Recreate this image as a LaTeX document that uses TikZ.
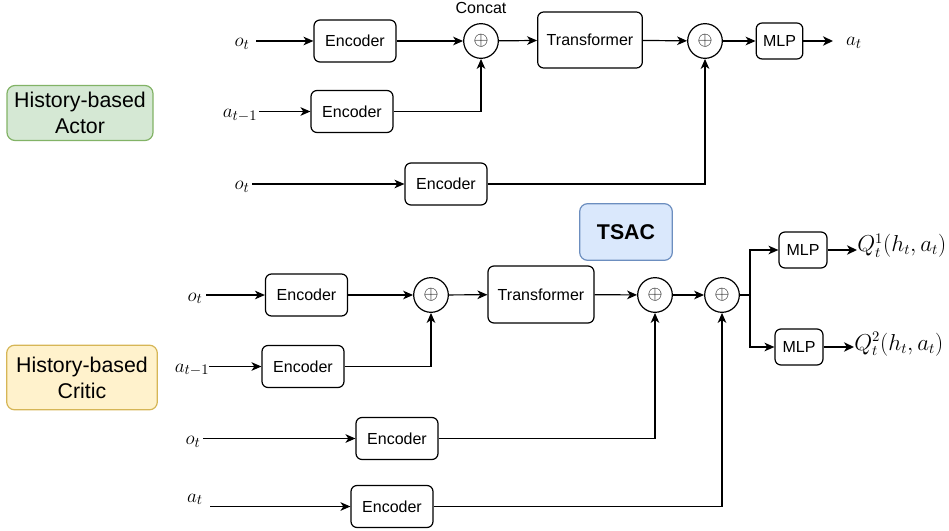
\documentclass[tikz,border=0pt]{standalone}
\usepackage[no-math]{fontspec}
\setmainfont{Liberation Sans}
\usetikzlibrary{arrows.meta}

\definecolor{actorfill}{HTML}{D5E8D4}
\definecolor{actorline}{HTML}{82B366}
\definecolor{criticfill}{HTML}{FFF2CC}
\definecolor{criticline}{HTML}{D6B656}
\definecolor{tsacfill}{HTML}{DAE8FC}
\definecolor{tsacline}{HTML}{6C8EBF}

\tikzset{
  block/.style={draw=black, line width=0.9pt, rounded corners=4.5pt, fill=white,
    inner sep=0pt, align=center, font=\fontsize{12}{14}\selectfont},
  encbox/.style={block, minimum width=61.5pt, minimum height=31.5pt},
  trfbox/.style={block, minimum width=78.5pt, minimum height=42pt},
  mlpbox/.style={block, minimum width=35pt, minimum height=27pt},
  joinnode/.style={circle, draw=black, line width=0.9pt, fill=white,
    minimum size=26pt, inner sep=0pt, font=\fontsize{15}{16}\selectfont},
  tag/.style={rounded corners=6pt, line width=0.9pt, align=center,
    font=\fontsize{16}{19.5}\selectfont, inner sep=0pt},
  mathlabel/.style={inner sep=0pt, font=\fontsize{15.5}{18}\selectfont},
  link/.style={line width=0.9pt, -{Stealth[length=7.5pt, width=6.5pt, inset=2.2pt]}},
  plain/.style={line width=0.9pt},
  boldlink/.style={line width=1.5pt, -{Stealth[length=7.5pt, width=7pt, inset=2.2pt]}},
}

\begin{document}
\begin{tikzpicture}[x=0.75pt, y=-0.75pt]
\useasboundingbox (0,0) rectangle (949,531);

% ---------- legend tags ----------
\node[tag, draw=actorline, fill=actorfill, minimum width=109.5pt, minimum height=41.25pt]
  (actor) at (80,113) {History-based\\Actor};
\node[tag, draw=criticline, fill=criticfill, minimum width=113pt, minimum height=48.5pt]
  (critic) at (82,377.5) {History-based\\Critic};
\node[tag, draw=tsacline, fill=tsacfill, minimum width=69.5pt, minimum height=42.5pt,
  font=\fontsize{16}{19}\selectfont\bfseries] (tsac) at (626,232) {TSAC};

% ---------- actor ----------
\node[encbox] (ae1) at (355,41) {Encoder};
\node[encbox] (ae2) at (352,111.5) {Encoder};
\node[encbox] (ae3) at (446,184) {Encoder};
\node[joinnode] (ac1) at (481,41) {$\oplus$};
\node[font=\fontsize{12}{14}\selectfont, inner sep=0pt] (concat) at (481,8) {Concat};
\node[trfbox] (at1) at (590,40) {Transformer};
\node[joinnode] (ac2) at (705,41) {$\oplus$};
\node[mlpbox] (am1) at (779.5,41) {MLP};

\node[mathlabel, anchor=base] (lao1) at (242,47) {$o_t$};
\node[mathlabel, anchor=base] (laa1) at (240,117.5) {$a_{t-1}$};
\node[mathlabel, anchor=base] (lao2) at (242,190) {$o_t$};
\node[mathlabel, anchor=base] (laout) at (854,46) {$a_t$};

\coordinate (as1) at (256,41);
\coordinate (as2) at (259,111.5);
\coordinate (as3) at (252,184);
\coordinate (aend) at (833,41);

\draw[link] (as1) -- (ae1.west);
\draw[link] (ae1) -- (ac1);
\draw[link] (ac1) -- (at1);
\draw[link] (at1) -- (ac2);
\draw[link] (ac2) -- (am1);
\draw[boldlink] (am1.east) -- (aend);
\draw[link] (as2) -- (ae2.west);
\draw[link] (ae2.east) -| (ac1.south);
\draw[link] (as3) -- (ae3.west);
\draw[link] (ae3.east) -| (ac2.south);

% ---------- critic ----------
\node[encbox] (ce1) at (306.5,295) {Encoder};
\node[encbox] (ce2) at (303,366.5) {Encoder};
\node[encbox] (ce3) at (397,438.5) {Encoder};
\node[encbox] (ce4) at (392,506.5) {Encoder};
\node[joinnode] (cc1) at (431,295) {$\oplus$};
\node[trfbox, minimum width=79.5pt, minimum height=42.75pt] (ct1) at (541,294.5) {Transformer};
\node[joinnode] (cc2) at (655,295) {$\oplus$};
\node[joinnode] (cc3) at (722,295) {$\oplus$};
\node[mlpbox, minimum width=36pt] (cm1) at (803,250) {MLP};
\node[mlpbox, minimum width=36pt] (cm2) at (799,347) {MLP};

\node[mathlabel, anchor=base] (lco1) at (195,301) {$o_t$};
\node[mathlabel, anchor=base] (lca1) at (192,372) {$a_{t-1}$};
\node[mathlabel, anchor=base] (lco2) at (193,444.5) {$o_t$};
\node[mathlabel, anchor=base] (lca2) at (195,502) {$a_t$};
\node[mathlabel, anchor=base west, font=\fontsize{16}{18}\selectfont] (lq1) at (857,251.5) {$Q^1_t(h_t,a_t)$};
\node[mathlabel, anchor=base west, font=\fontsize{16}{18}\selectfont] (lq2) at (854,350) {$Q^2_t(h_t,a_t)$};

\coordinate (cs1) at (206,295);
\coordinate (cs2) at (209,366.5);
\coordinate (cs3) at (203,438.5);
\coordinate (cs4) at (210,506.5);
\coordinate (split) at (750,295);
\coordinate (qend1) at (857,250);
\coordinate (qend2) at (854,347);

\draw[link] (cs1) -- (ce1.west);
\draw[link] (ce1) -- (cc1);
\draw[link] (cc1) -- (ct1);
\draw[link] (ct1) -- (cc2);
\draw[link] (cc2) -- (cc3);
\draw[plain] (cc3.east) -- (split);
\draw[link] (split) |- (cm1.west);
\draw[link] (split) |- (cm2.west);
\draw[boldlink] (cm1.east) -- (qend1);
\draw[boldlink] (cm2.east) -- (qend2);
\draw[link] (cs2) -- (ce2.west);
\draw[link] (ce2.east) -| (cc1.south);
\draw[link] (cs3) -- (ce3.west);
\draw[link] (ce3.east) -| (cc2.south);
\draw[link] (cs4) -- (ce4.west);
\draw[link] (ce4.east) -| (cc3.south);
\end{tikzpicture}
\end{document}
